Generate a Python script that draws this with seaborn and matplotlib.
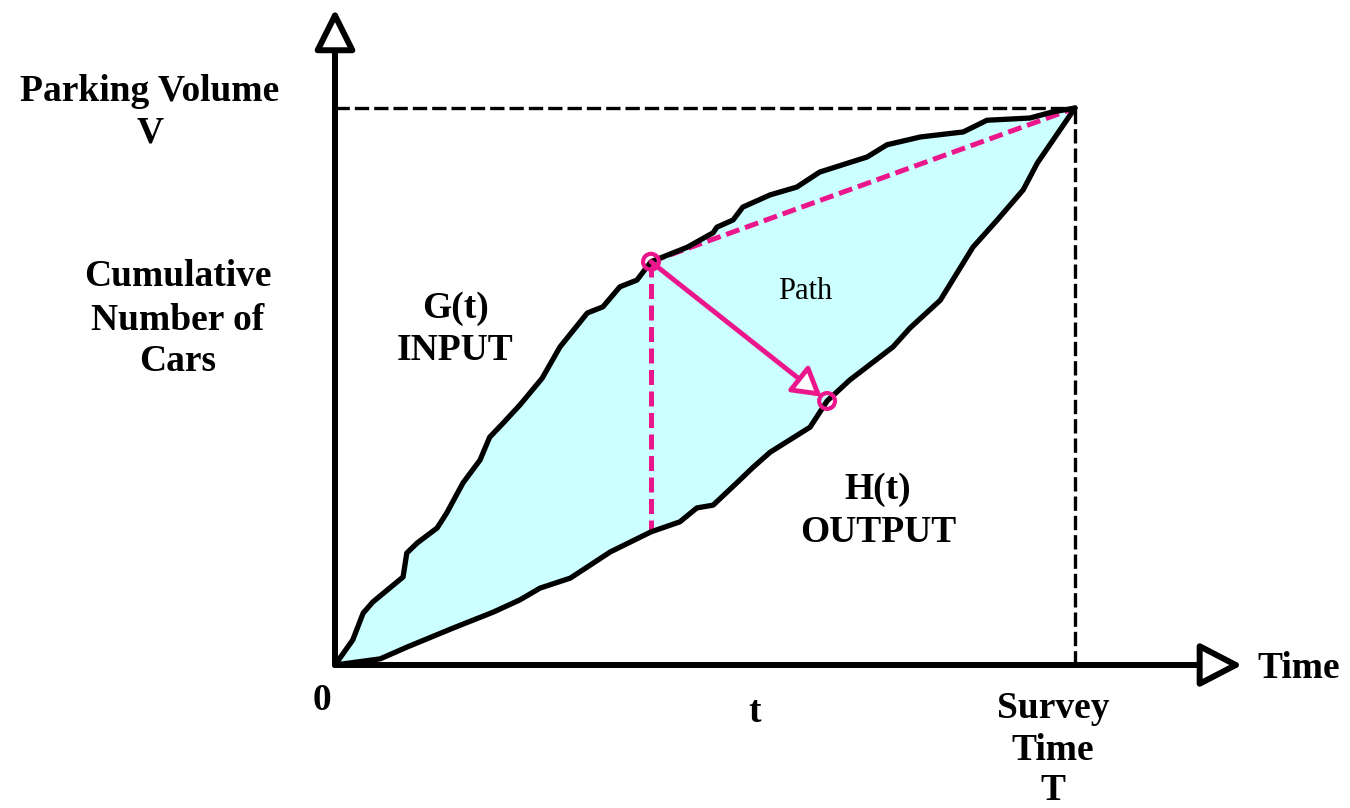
import numpy as np
import pandas as pd
import matplotlib
matplotlib.use("Agg")
import matplotlib.pyplot as plt
import seaborn as sns

# ---------------- data (time in % of survey time T, cars in % of V) ----------------
g_time = [0, 2.4, 3.8, 5.1, 9.2, 9.7, 11.1, 13.8, 15.1, 17.3, 19.6, 20.9, 22.7, 25.0,
          28.0, 30.4, 34.1, 36.2, 38.5, 40.8, 42.7, 47.6, 51.1, 51.6, 53.8, 55.1, 58.8,
          62.4, 65.5, 71.9, 74.6, 79.1, 84.9, 88.1, 93.9, 97.0, 100]
g_cars = [0, 4.5, 9.3, 11.3, 15.8, 20.1, 21.9, 24.6, 27.3, 32.7, 36.8, 40.9, 43.4, 46.7,
          51.5, 57.1, 63.2, 64.3, 67.9, 69.1, 72.4, 75.0, 77.6, 78.6, 79.9, 82.2, 84.4,
          85.8, 88.5, 91.2, 93.4, 94.8, 95.7, 97.8, 98.2, 99.3, 100]
h_time = [0, 6.1, 9.7, 15.9, 21.4, 25.0, 27.7, 31.8, 37.2, 42.7, 46.6, 48.9, 51.1, 54.3,
          56.5, 58.8, 64.2, 66.5, 69.6, 75.4, 77.7, 81.8, 86.2, 89.5, 93.0, 94.9, 100]
h_cars = [0, 1.1, 3.2, 6.6, 9.5, 11.7, 13.8, 15.6, 20.3, 23.9, 25.7, 28.2, 28.7, 32.7,
          35.5, 38.2, 42.7, 47.4, 51.2, 57.1, 60.5, 65.5, 75.0, 79.9, 85.3, 90.1, 100]
survey_time = 100
parking_volume = 100
t_index_g = 20      # point t on G(t)
t_index_h = 9       # same time t on H(t)
exit_index_h = 17   # where the path reaches H(t)

# ---------------- style ----------------
sns.set_style("white")
plt.rcParams['font.family'] = ['Liberation Serif', 'DejaVu Serif']
PINK = '#EC168C'
FILL = '#CCFFFF'

fig = plt.figure(figsize=(13.5, 8.08), dpi=100)
ax = fig.add_axes([0, 0, 1, 1])
# pixel mapping: origin at (335, 665) px, T at 1075 px, V at 108 px
sx, sy = 7.4, 5.57
ax.set_xlim(-335 / sx, (1350 - 335) / sx)
ax.set_ylim(-(808 - 665) / sy, 665 / sy)
ax.axis('off')

df_g = pd.DataFrame({'time': g_time, 'cars': g_cars})
df_h = pd.DataFrame({'time': h_time, 'cars': h_cars})

# shaded region between the curves
ax.fill(np.concatenate([g_time, h_time[::-1]]), np.concatenate([g_cars, h_cars[::-1]]),
        color=FILL, lw=0, zorder=1)

# reference lines for V and T
ax.plot([0, survey_time], [parking_volume, parking_volume], color='black', lw=2.4,
        ls=(0, (4.3, 1.5)), zorder=2)
ax.plot([survey_time, survey_time], [0, parking_volume], color='black', lw=2.4,
        ls=(0, (4.3, 1.5)), zorder=2)

# pink guide lines
tg, vg = g_time[t_index_g], g_cars[t_index_g]
th, vh = h_time[t_index_h], h_cars[t_index_h]
ax.plot([tg, tg], [vg, vh], color=PINK, lw=3.6, ls=(0, (3.0, 1.3)), zorder=3)
ax.plot([tg, survey_time], [vg, parking_volume], color=PINK, lw=3.6,
        ls=(0, (2.8, 1.2)), zorder=3)

# curves
for df in (df_g, df_h):
    sns.lineplot(data=df, x='time', y='cars', sort=False, estimator=None, color='black',
                 lw=3.8, ax=ax, zorder=4, solid_joinstyle='round',
                 solid_capstyle='round')

# path arrow
te, ve = h_time[exit_index_h], h_cars[exit_index_h]
ax.annotate('', xy=(te, ve), xytext=(tg, vg),
            arrowprops=dict(arrowstyle='-|>,head_length=1.7,head_width=1.0',
                            ec=PINK, fc='white', lw=3.5, shrinkA=0, shrinkB=5,
                            mutation_scale=10), zorder=5)
ax.scatter([tg, te], [vg, ve], s=130, facecolors='none', edgecolors=PINK,
           linewidths=3.0, zorder=6)

# axes with open arrow heads
ax.annotate('', xy=(0, 117.8), xytext=(0, 0),
            arrowprops=dict(arrowstyle='-|>,head_length=2.5,head_width=1.25',
                            ec='black', fc='white', lw=4.3, shrinkA=0, shrinkB=0,
                            mutation_scale=10), zorder=7)
ax.annotate('', xy=(122.6, 0), xytext=(0, 0),
            arrowprops=dict(arrowstyle='-|>,head_length=2.6,head_width=1.35',
                            ec='black', fc='white', lw=4.3, shrinkA=0, shrinkB=0,
                            mutation_scale=10), zorder=7)

# text
bold = dict(fontsize=27, fontweight='bold', ha='center', va='center', color='black')
def px(x, y):
    return ((x - 335) / sx, (665 - y) / sy)

ax.text(*px(150, 92), 'Parking Volume', **bold)
ax.text(*px(150, 133), 'V', **bold)
ax.text(*px(178, 277), 'Cumulative', **bold)
ax.text(*px(178, 321), 'Number of', **bold)
ax.text(*px(178, 362), 'Cars', **bold)
ax.text(*px(455, 309), 'G(t)', **bold)
ax.text(*px(455, 351), 'INPUT', **bold)
ax.text(*px(878, 490), 'H(t)', **bold)
ax.text(*px(878, 532), 'OUTPUT', **bold)
ax.text(*px(805, 292), 'Path', fontsize=22, ha='center', va='center', color='black')
ax.text(*px(322, 701), '0', **bold)
ax.text(*px(755, 712), 't', **bold)
ax.text(*px(1299, 668), 'Time', **bold)
ax.text(*px(1053, 709), 'Survey', **bold)
ax.text(*px(1053, 750), 'Time', **bold)
ax.text(*px(1053, 791), 'T', **bold)

fig.savefig('out.png', dpi=100, facecolor='white')
